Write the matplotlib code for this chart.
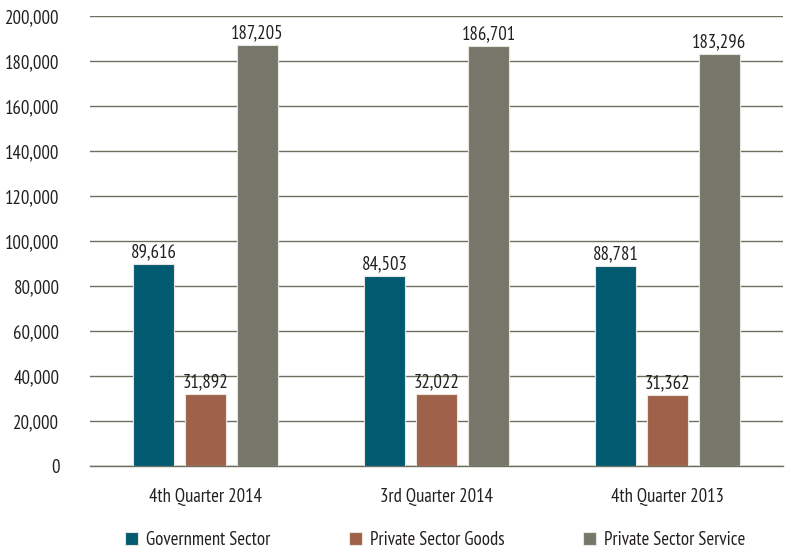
import matplotlib
matplotlib.use("Agg")
import matplotlib.pyplot as plt
import numpy as np
from matplotlib import font_manager

names = {f.name for f in font_manager.fontManager.ttflist}
fam = [f for f in ['PT Sans Narrow', 'Fira Sans Condensed', 'Roboto Condensed'] if f in names][:1]
plt.rcParams['font.family'] = fam + ['DejaVu Sans']

categories = ["4th Quarter 2014", "3rd Quarter 2014", "4th Quarter 2013"]
series_names = ["Government Sector", "Private Sector Goods", "Private Sector Service"]
government = [89616, 84503, 88781]
goods = [31892, 32022, 31362]
service = [187205, 186701, 183296]
colors = ["#005a70", "#a0614a", "#76776a"]
yticks = [0, 20000, 40000, 60000, 80000, 100000, 120000, 140000, 160000, 180000, 200000]

fig = plt.figure(figsize=(7.94, 5.52), dpi=100)
ax = fig.add_axes([90/794, 86/552, 693/794, 450/552])

x = np.arange(len(categories))
width = 0.178
offs = [-0.225, 0, 0.225]
grid_c = "#6e6e60"
fs = 13.5
for vals, off, c, name in zip([government, goods, service], offs, colors, series_names):
    bars = ax.bar(x + off, vals, width, color=c, label=name, zorder=3,
                  edgecolor="#e8e6df", linewidth=0.8)
    for b, v in zip(bars, vals):
        ax.annotate(f"{v:,}", (b.get_x() + b.get_width()/2, v), xytext=(0, 2),
                    textcoords="offset points", ha="center", va="bottom",
                    fontsize=fs, color="#231f20", zorder=4)

ax.set_xlim(-0.5, 2.5)
ax.set_ylim(0, 200000)
ax.set_yticks(yticks)
ax.set_yticklabels([f"{t:,}" for t in yticks])
ax.set_xticks(x)
ax.set_xticklabels(categories)
ax.tick_params(axis='both', length=0, labelsize=fs, colors="#231f20")
ax.tick_params(axis='y', pad=22)
ax.tick_params(axis='x', pad=16)
ax.yaxis.grid(True, color=grid_c, linewidth=1.0, zorder=0)
for s in ["top", "right", "left"]:
    ax.spines[s].set_visible(False)
ax.spines["bottom"].set_color(grid_c)
ax.spines["bottom"].set_linewidth(1.0)

leg = fig.legend(loc="center", bbox_to_anchor=(0.548, 12/552), ncol=3, frameon=False,
                 handlelength=0.7, handleheight=0.7, handletextpad=0.4,
                 columnspacing=4.2, fontsize=fs, borderpad=0)
for t in leg.get_texts():
    t.set_color("#231f20")

fig.savefig("out.png", dpi=100)
